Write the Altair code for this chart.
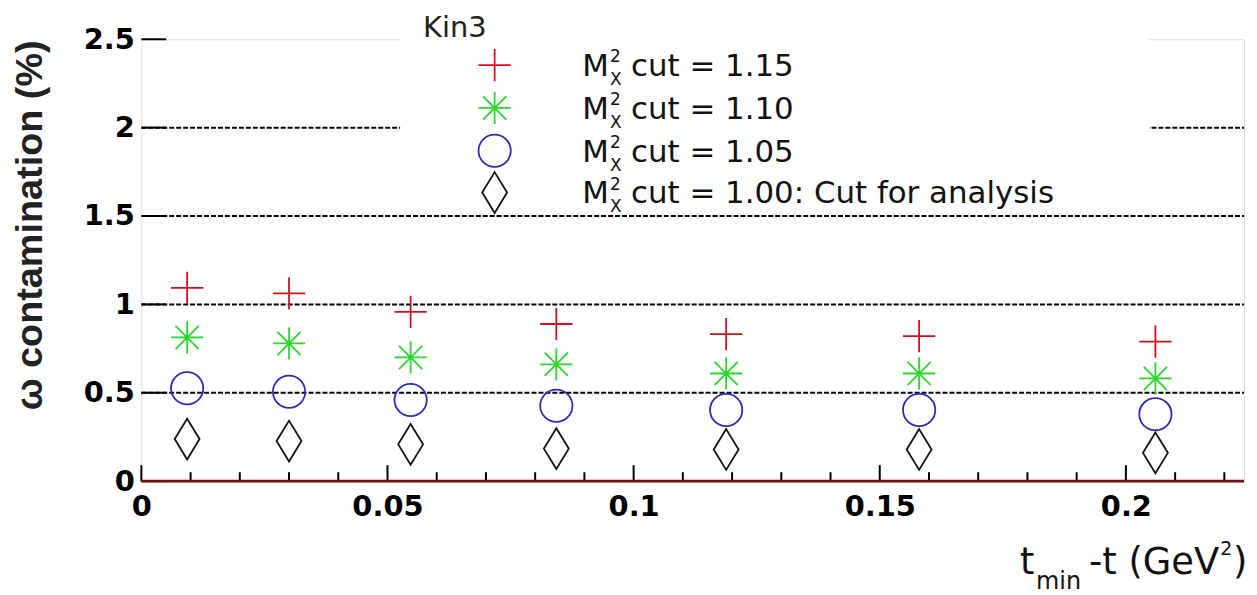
import altair as alt
import pandas as pd

# ---------------- data ----------------
t_vals = [0.0093, 0.030, 0.0547, 0.0843, 0.1188, 0.158, 0.206]
cut_115 = [1.094, 1.062, 0.958, 0.889, 0.832, 0.821, 0.789]
cut_110 = [0.813, 0.779, 0.700, 0.661, 0.609, 0.609, 0.581]
cut_105 = [0.525, 0.506, 0.459, 0.427, 0.402, 0.402, 0.379]
cut_100 = [0.238, 0.227, 0.208, 0.184, 0.179, 0.179, 0.160]

series_keys = ["1.15", "1.10", "1.05", "1.00"]
series_labels = ["cut = 1.15", "cut = 1.10", "cut = 1.05", "cut = 1.00: Cut for analysis"]
series_colors = ["#d0101c", "#2bd62b", "#2d2db4", "#111111"]
series_shapes = [
    "M-1,0L1,0M0,-1L0,1",
    "M-1,0L1,0M0,-1L0,1M-0.72,-0.72L0.72,0.72M-0.72,0.72L0.72,-0.72",
    "circle",
    "M0,-1L0.61,0L0,1L-0.61,0Z",
]
series_sizes = [1050, 1050, 1050, 1681]

y_ticks = [0, 0.5, 1, 1.5, 2, 2.5]
grid_lines = [0.5, 1, 1.5, 2]
x_major = [0, 0.05, 0.1, 0.15, 0.2]
x_minor = [0.01, 0.02, 0.03, 0.04, 0.06, 0.07, 0.08, 0.09, 0.11, 0.12, 0.13,
           0.14, 0.16, 0.17, 0.18, 0.19, 0.21, 0.22]

legend_title = "Kin3"

# ---------------- layout ----------------
W, H = 1108, 444
FONT = "DejaVu Sans"
LEG_ROWS = [26, 69, 112, 154]

xs = alt.Scale(domain=[0, 0.224], nice=False, zero=False)
ys = alt.Scale(domain=[0, 2.5], nice=False, zero=False)

x_axis = alt.Axis(values=x_major, format="~g", ticks=False, domain=False,
                  grid=False, labelFont=FONT, labelFontWeight="bold",
                  labelFontSize=29, labelPadding=12, labelColor="black",
                  labelFlush=False, title=None)
y_axis = alt.Axis(values=y_ticks, format="~g", ticks=False, domain=False,
                  grid=False, labelFont=FONT, labelFontWeight="bold",
                  labelFontSize=29, labelPadding=7, labelColor="black",
                  labelFlush=False, title=None)

one = pd.DataFrame({"a": [0]})

series_layers = []
legend_layers = []
for key, vals, lab, col, shp, sz, row in zip(series_keys,
                                             [cut_115, cut_110, cut_105, cut_100],
                                             series_labels, series_colors,
                                             series_shapes, series_sizes, LEG_ROWS):
    d = pd.DataFrame({"t": t_vals, "v": vals, "series": key})
    series_layers.append(
        alt.Chart(d).mark_point(filled=False, strokeWidth=1.8, opacity=1, color=col,
                                shape=shp, size=sz).encode(
            x=alt.X("t:Q", scale=xs, axis=x_axis),
            y=alt.Y("v:Q", scale=ys, axis=y_axis),
        )
    )
    ld = pd.DataFrame({"label": [lab]})
    legend_layers.append(
        alt.Chart(ld).mark_point(filled=False, strokeWidth=1.8, opacity=1, color=col,
                                 shape=shp, size=sz).encode(
            x=alt.value(355), y=alt.value(row))
    )
    legend_layers.append(
        alt.Chart(ld).mark_text(text="M", font=FONT, fontSize=31, align="left",
                                baseline="alphabetic", color="#111111").encode(
            x=alt.value(443), y=alt.value(row + 11))
    )
    legend_layers.append(
        alt.Chart(ld).mark_text(text="2", font=FONT, fontSize=17, align="left",
                                baseline="alphabetic", color="#111111").encode(
            x=alt.value(471), y=alt.value(row - 3))
    )
    legend_layers.append(
        alt.Chart(ld).mark_text(text="X", font=FONT, fontSize=17, align="left",
                                baseline="alphabetic", color="#111111").encode(
            x=alt.value(471), y=alt.value(row + 20))
    )
    legend_layers.append(
        alt.Chart(ld).mark_text(font=FONT, fontSize=31, align="left",
                                baseline="alphabetic", color="#111111").encode(
            x=alt.value(492), y=alt.value(row + 11), text="label:N")
    )

grid = alt.Chart(pd.DataFrame({"v": grid_lines})).mark_rule(
    color="black", strokeWidth=2, strokeDash=[5, 2]
).encode(y=alt.Y("v:Q", scale=ys), x=alt.value(0), x2=alt.value(W))

yt = alt.Chart(pd.DataFrame({"v": y_ticks})).mark_rule(color="black", strokeWidth=2).encode(
    y=alt.Y("v:Q", scale=ys), x=alt.value(0), x2=alt.value(25))

xt_major = alt.Chart(pd.DataFrame({"t": x_major})).mark_rule(color="black", strokeWidth=2).encode(
    x=alt.X("t:Q", scale=xs), y=alt.value(H), y2=alt.value(H - 16))
xt_minor = alt.Chart(pd.DataFrame({"t": x_minor})).mark_rule(color="black", strokeWidth=2).encode(
    x=alt.X("t:Q", scale=xs), y=alt.value(H), y2=alt.value(H - 9))

zero_line = alt.Chart(pd.DataFrame({"v": [0]})).mark_rule(color="#6a1212", strokeWidth=3).encode(
    y=alt.Y("v:Q", scale=ys), x=alt.value(0), x2=alt.value(W))

legend_box = alt.Chart(one).mark_rect(color="white").encode(
    x=alt.value(260), x2=alt.value(1013), y=alt.value(-38), y2=alt.value(167))

kin = alt.Chart(one).mark_text(text=legend_title, font=FONT, fontSize=29, align="left",
                               baseline="alphabetic", color="#222222").encode(
    x=alt.value(283), y=alt.value(-2))

ytitle = alt.Chart(one).mark_text(text="\u03c9 contamination (%)", font="Liberation Sans",
                                  fontWeight="bold", fontSize=38, angle=270, align="center",
                                  baseline="middle", color="#222222").encode(
    x=alt.value(-111), y=alt.value(187))


def piece(txt, x, y, size, align="left"):
    return alt.Chart(one).mark_text(text=txt, font=FONT, fontSize=size, align=align,
                                    baseline="alphabetic", color="#111111").encode(
        x=alt.value(x), y=alt.value(y))


xtitle = alt.layer(
    piece("t", 883, 537, 37),
    piece("min", 899, 552, 24),
    piece("-t (GeV", 1083, 537, 37, "right"),
    piece("2", 1084, 518, 19),
    piece(")", 1097, 537, 37),
)

chart = alt.layer(
    grid, yt, xt_minor, xt_major, zero_line, *series_layers,
    legend_box, kin, *legend_layers,
    ytitle, xtitle,
).properties(
    width=W, height=H,
    autosize=alt.AutoSizeParams(type="none"),
    padding={"left": 134, "top": 30, "right": 5, "bottom": 113},
).configure_view(stroke="black", strokeWidth=2).configure(background="white")

chart.save("out.html", embed_options={"renderer": "svg", "actions": False})
